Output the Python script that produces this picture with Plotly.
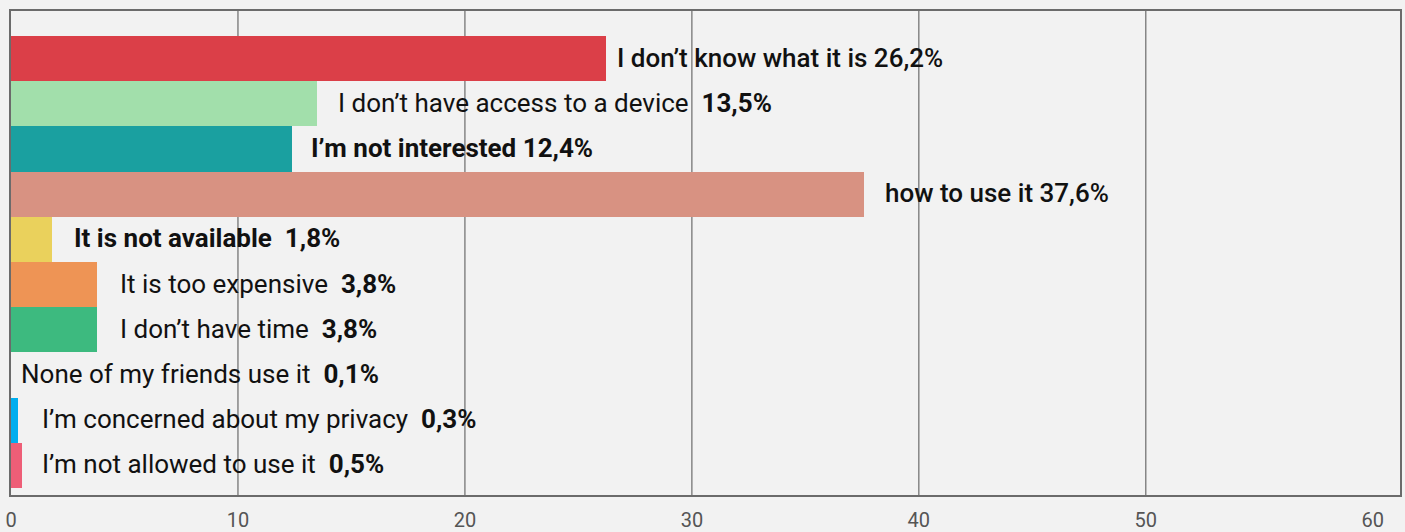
import plotly.graph_objects as go

# ---- data ----
labels = [
    "I don\u2019t know what it is",
    "I don\u2019t have access to a device",
    "I\u2019m not interested",
    "how to use it",
    "It is not available",
    "It is too expensive",
    "I don\u2019t have time",
    "None of my friends use it",
    "I\u2019m concerned about my privacy",
    "I\u2019m not allowed to use it",
]
values = [26.2, 13.5, 12.4, 37.6, 1.8, 3.8, 3.8, 0.1, 0.3, 0.5]
value_texts = ["26,2%", "13,5%", "12,4%", "37,6%", "1,8%", "3,8%", "3,8%", "0,1%", "0,3%", "0,5%"]
tick_values = [0, 10, 20, 30, 40, 50, 60]
grid_values = [10, 20, 30, 40, 50]

# ---- styling ----
colors = ["#DB3F48", "#A2DFAB", "#1AA0A0", "#D89282", "#EAD15C",
          "#EE9455", "#3DBA7F", "#F2F2F2", "#00AEEF", "#EE5E77"]
label_styles = ["medium", "mixed", "bold", "medium", "bold", "mixed", "mixed", "mixed", "mixed", "mixed"]
label_shifts = [9, 19, 17, 19, 20, 21, 21, 6, 22, 18]
bg = "#F2F2F2"
frame = "#6B6B6B"
font_family = "Roboto"

ypos = list(range(len(values)))

fig = go.Figure()
fig.add_trace(go.Bar(
    x=values, y=ypos, orientation="h",
    marker=dict(color=colors, line=dict(width=0)),
    width=1.0, hoverinfo="skip",
))

annotations = []
for i, (lab, v, vt, st, sh) in enumerate(zip(labels, values, value_texts, label_styles, label_shifts)):
    weight = "normal"
    if st == "medium":
        text = f"{lab} {vt}"
        weight = 500
    elif st == "bold":
        text = f"<b>{lab}  {vt}</b>" if i == 4 else f"<b>{lab} {vt}</b>"
    else:
        text = f"{lab}  <b>{vt}</b>"
    annotations.append(dict(
        x=v, y=i, xref="x", yref="y", text=text, showarrow=False,
        xanchor="left", yanchor="middle", xshift=sh, yshift=1,
        font=dict(family=font_family, size=26, color="#111111", weight=weight),
    ))

shapes = []
for g in grid_values:
    shapes.append(dict(type="line", xref="x", yref="paper", x0=g, x1=g, y0=0, y1=1,
                       line=dict(color=frame, width=1.2), layer="below"))

fig.update_layout(
    width=1405, height=532,
    margin=dict(l=11, r=5, t=11, b=37, autoexpand=False),
    paper_bgcolor=bg, plot_bgcolor=bg,
    showlegend=False,
    bargap=0,
    annotations=annotations,
    shapes=shapes,
    xaxis=dict(
        range=[0, 61.2], tickvals=tick_values, ticktext=[str(t) for t in tick_values],
        showgrid=False, zeroline=False,
        showline=True, linecolor=frame, linewidth=2, mirror=True,
        ticks="", ticklen=0, ticklabelstandoff=6,
        tickfont=dict(family=font_family, size=20, color="#555555"),
        fixedrange=True, automargin=False,
    ),
    yaxis=dict(
        range=[9.655, -1.053], showticklabels=False, showgrid=False, zeroline=False,
        showline=True, linecolor=frame, linewidth=2, mirror=True, ticks="",
        fixedrange=True, automargin=False,
    ),
)

fig.write_html(
    "out.html",
    config={"displayModeBar": False},
    post_script="document.body.style.margin='0';document.body.style.overflow='hidden';",
)
